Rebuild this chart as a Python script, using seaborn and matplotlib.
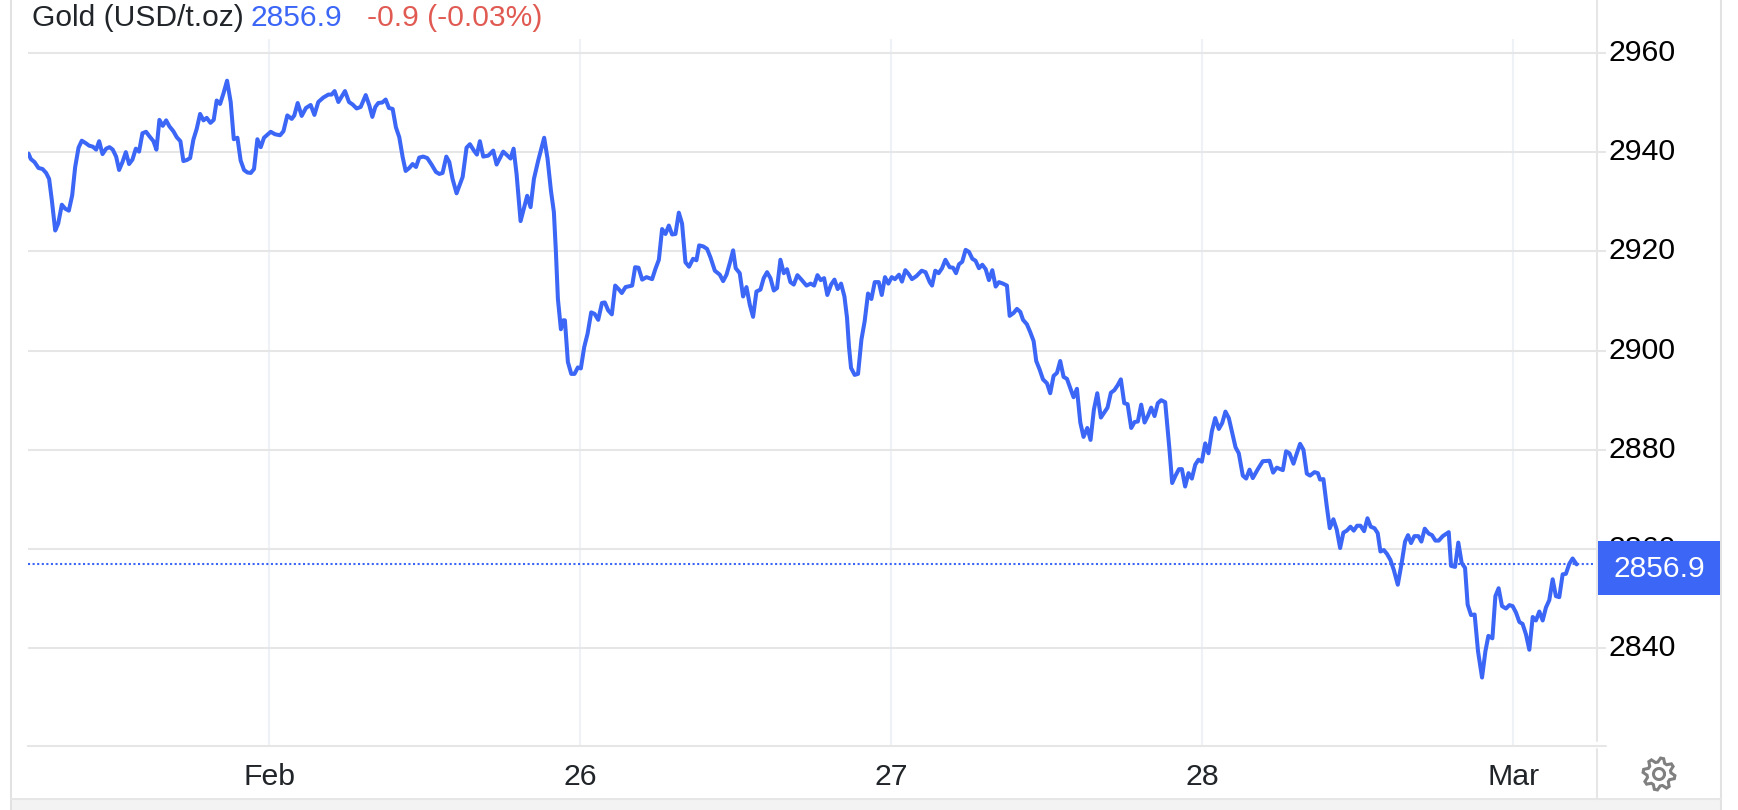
import numpy as np
import pandas as pd
import matplotlib
matplotlib.use("Agg")
import matplotlib.pyplot as plt
import seaborn as sns
from matplotlib.lines import Line2D
from matplotlib.patches import Rectangle, Polygon

# hours after the "Feb" tick
hours = [
    -18.56, -18.38, -18.10, -17.79, -17.48, -17.20, -16.97, -16.76, -16.50, -16.27, -15.99, -15.73,
    -15.45, -15.19, -14.96, -14.70, -14.45, -14.14, -13.88, -13.60, -13.34, -13.11, -12.85, -12.57,
    -12.31, -12.06, -11.80, -11.57, -11.31, -11.05, -10.80, -10.54, -10.28, -10.03, -9.77, -9.49,
    -9.23, -8.92, -8.69, -8.46, -8.20, -7.94, -7.69, -7.38, -7.12, -6.84, -6.61, -6.35,
    -6.09, -5.84, -5.58, -5.32, -5.06, -4.81, -4.52, -4.27, -4.04, -3.78, -3.52, -3.24,
    -2.96, -2.72, -2.44, -2.19, -1.93, -1.67, -1.41, -1.16, -0.90, -0.64, -0.39, 0.13,
    0.46, 0.85, 1.11, 1.41, 1.75, 1.95, 2.21, 2.52, 2.85, 3.21, 3.50, 3.80,
    4.19, 4.58, 4.83, 5.06, 5.35, 5.86, 6.17, 6.45, 6.76, 7.07, 7.46, 7.74,
    7.97, 8.20, 8.43, 8.74, 9.00, 9.25, 9.54, 9.79, 10.05, 10.31, 10.54, 10.82,
    11.08, 11.34, 11.59, 11.90, 12.21, 12.54, 12.88, 13.14, 13.39, 13.68, 13.91, 14.16,
    14.47, 14.94, 15.24, 15.50, 15.81, 16.04, 16.27, 16.53, 16.92, 17.30, 17.56, 18.07,
    18.64, 18.87, 19.10, 19.41, 19.92, 20.18, 20.44, 20.77, 21.23, 21.49, 21.75, 21.98,
    22.13, 22.29, 22.52, 22.70, 22.83, 23.06, 23.32, 23.57, 23.83, 24.06, 24.32, 24.58,
    24.86, 25.12, 25.40, 25.69, 25.91, 26.17, 26.45, 26.71, 26.97, 27.22, 27.51, 28.02,
    28.25, 28.51, 28.79, 29.13, 29.56, 29.82, 30.08, 30.33, 30.59, 30.85, 31.10, 31.36,
    31.62, 31.87, 32.13, 32.41, 32.72, 32.98, 33.19, 33.50, 33.80, 34.06, 34.40, 34.78,
    35.04, 35.30, 35.55, 35.81, 36.01, 36.32, 36.58, 36.84, 37.10, 37.35, 37.61, 37.92,
    38.17, 38.43, 38.69, 38.95, 39.20, 39.46, 39.72, 39.97, 40.23, 40.49, 40.77, 41.08,
    41.47, 41.80, 42.06, 42.32, 42.57, 42.83, 43.08, 43.37, 43.63, 43.88, 44.14, 44.40,
    44.60, 44.75, 44.91, 45.19, 45.45, 45.71, 45.96, 46.22, 46.48, 46.74, 47.05, 47.28,
    47.53, 47.79, 48.05, 48.30, 48.61, 48.84, 49.10, 49.36, 49.61, 49.95, 50.36, 50.66,
    50.98, 51.16, 51.41, 51.67, 51.93, 52.19, 52.52, 52.78, 53.01, 53.24, 53.49, 53.75,
    54.01, 54.27, 54.52, 54.78, 55.04, 55.30, 55.55, 55.81, 56.07, 56.32, 56.63, 56.94,
    57.15, 57.46, 57.71, 57.97, 58.18, 58.48, 58.74, 59.00, 59.20, 59.46, 59.72, 60.03,
    60.28, 60.54, 60.80, 61.05, 61.31, 61.57, 61.82, 62.08, 62.34, 62.60, 62.85, 63.14,
    63.39, 63.65, 63.91, 64.19, 64.45, 64.70, 64.96, 65.22, 65.48, 65.73, 65.99, 66.25,
    66.53, 66.79, 67.04, 67.30, 67.56, 67.81, 68.07, 68.33, 68.58, 68.84, 69.15, 69.48,
    69.69, 69.95, 70.21, 70.44, 70.69, 70.95, 71.21, 71.47, 71.72, 71.98, 72.24, 72.49,
    72.75, 73.01, 73.29, 73.55, 73.80, 74.06, 74.32, 74.58, 74.83, 75.14, 75.40, 75.66,
    75.91, 76.30, 76.68, 77.20, 77.48, 77.76, 78.23, 78.48, 78.74, 79.05, 79.31, 79.56,
    79.82, 80.08, 80.33, 80.67, 80.93, 81.10, 81.36, 81.62, 81.85, 82.13, 82.39, 82.65,
    82.90, 83.16, 83.45, 83.70, 83.96, 84.22, 84.50, 84.76, 85.01, 85.30, 85.55, 85.76,
    86.02, 86.27, 86.53, 86.79, 87.10, 87.40, 87.66, 87.89, 88.12, 88.38, 88.69, 88.92,
    89.18, 89.49, 89.74, 90.00, 90.26, 90.57, 91.03, 91.21, 91.52, 91.77, 92.03, 92.29,
    92.49, 92.75, 93.03, 93.29, 93.60, 93.86, 94.09, 94.40, 94.63, 94.88, 95.14, 95.45,
    95.71, 95.96, 96.22, 96.48, 96.73, 96.99, 97.25, 97.51, 97.76, 98.02, 98.28, 98.53,
    98.79, 99.05, 99.30, 99.56, 99.82, 100.07, 100.33, 100.59, 100.90,
]
prices = [
    2939.7, 2938.6, 2938.0, 2936.8, 2936.6, 2935.8, 2934.6, 2930.3, 2924.2, 2925.6, 2929.4, 2928.6,
    2928.2, 2931.3, 2937.0, 2940.9, 2942.3, 2941.8, 2941.3, 2941.1, 2940.5, 2942.2, 2939.6, 2940.7,
    2941.0, 2940.5, 2939.1, 2936.4, 2938.0, 2940.0, 2937.6, 2938.5, 2940.7, 2940.1, 2943.8, 2944.1,
    2943.2, 2942.2, 2940.5, 2946.5, 2945.3, 2946.4, 2945.2, 2944.2, 2943.0, 2942.2, 2938.2, 2938.4,
    2938.8, 2942.5, 2944.7, 2947.7, 2946.4, 2946.9, 2945.9, 2946.5, 2950.4, 2949.7, 2951.8, 2954.4,
    2950.1, 2942.6, 2942.9, 2938.3, 2936.4, 2935.9, 2935.8, 2936.6, 2942.6, 2941.0, 2942.9, 2944.1,
    2943.6, 2943.4, 2944.2, 2947.4, 2946.7, 2947.4, 2949.9, 2947.3, 2948.9, 2949.5, 2947.5, 2950.1,
    2951.0, 2951.6, 2951.6, 2952.3, 2950.1, 2952.3, 2950.1, 2949.6, 2948.8, 2949.1, 2951.5, 2949.4,
    2947.1, 2949.1, 2949.9, 2950.0, 2950.6, 2948.9, 2948.7, 2945.0, 2943.0, 2939.0, 2936.2, 2936.8,
    2937.6, 2937.0, 2938.9, 2939.1, 2938.8, 2937.5, 2936.0, 2935.6, 2935.8, 2939.1, 2938.0, 2934.6,
    2931.7, 2935.0, 2940.9, 2941.6, 2940.3, 2939.5, 2942.2, 2939.1, 2939.3, 2940.3, 2937.5, 2940.1,
    2938.7, 2940.7, 2935.6, 2926.1, 2931.2, 2928.9, 2934.6, 2938.3, 2942.9, 2938.7, 2932.3, 2927.9,
    2920.2, 2910.4, 2904.3, 2906.1, 2906.1, 2897.7, 2895.3, 2895.3, 2896.6, 2896.4, 2900.7, 2903.4,
    2907.7, 2907.4, 2906.2, 2909.6, 2909.7, 2908.1, 2907.3, 2913.1, 2912.4, 2911.6, 2912.8, 2913.1,
    2916.8, 2916.7, 2914.3, 2914.8, 2914.4, 2916.5, 2918.3, 2924.5, 2923.5, 2925.2, 2923.4, 2923.5,
    2927.8, 2925.6, 2917.8, 2916.9, 2918.5, 2918.2, 2921.2, 2921.0, 2920.5, 2918.8, 2916.1, 2915.3,
    2914.0, 2915.3, 2917.6, 2920.2, 2916.6, 2915.6, 2910.9, 2912.8, 2909.2, 2906.8, 2911.9, 2912.3,
    2914.6, 2915.8, 2914.6, 2912.1, 2912.6, 2918.3, 2915.6, 2916.4, 2913.8, 2913.3, 2915.2, 2914.3,
    2913.1, 2913.5, 2913.1, 2915.2, 2914.2, 2914.6, 2911.2, 2913.3, 2914.3, 2912.4, 2913.5, 2910.9,
    2906.6, 2900.8, 2896.5, 2895.1, 2895.3, 2902.2, 2905.9, 2911.5, 2910.4, 2913.8, 2913.8, 2911.2,
    2914.8, 2913.5, 2914.8, 2914.4, 2915.3, 2913.9, 2916.2, 2915.4, 2914.4, 2915.0, 2916.1, 2915.8,
    2913.8, 2913.1, 2916.1, 2915.6, 2916.6, 2918.3, 2916.8, 2916.7, 2915.6, 2917.4, 2917.9, 2920.3,
    2919.9, 2918.5, 2918.1, 2916.6, 2917.3, 2916.4, 2914.2, 2916.2, 2912.9, 2913.8, 2913.5, 2913.1,
    2907.0, 2907.6, 2908.4, 2907.8, 2906.2, 2905.3, 2903.7, 2901.9, 2897.9, 2896.2, 2894.2, 2893.4,
    2891.4, 2894.9, 2895.5, 2897.9, 2894.7, 2894.3, 2892.5, 2890.6, 2892.3, 2885.5, 2882.6, 2884.4,
    2882.0, 2888.1, 2891.4, 2886.5, 2887.5, 2888.5, 2891.5, 2892.0, 2893.0, 2894.2, 2889.4, 2889.2,
    2884.4, 2885.6, 2885.7, 2889.1, 2885.5, 2886.8, 2888.5, 2886.8, 2889.4, 2890.0, 2889.6, 2880.1,
    2873.3, 2874.8, 2876.1, 2876.1, 2872.6, 2875.3, 2874.2, 2877.0, 2878.0, 2877.6, 2881.3, 2879.3,
    2883.7, 2886.4, 2884.2, 2885.4, 2887.7, 2886.4, 2883.4, 2880.5, 2879.3, 2874.8, 2874.2, 2876.0,
    2874.3, 2876.1, 2877.7, 2877.8, 2875.4, 2876.4, 2875.9, 2879.7, 2879.3, 2877.2, 2879.3, 2881.2,
    2880.0, 2875.2, 2874.8, 2875.5, 2875.3, 2874.0, 2874.1, 2868.6, 2864.2, 2866.0, 2863.9, 2860.2,
    2863.3, 2863.7, 2864.5, 2863.7, 2864.7, 2864.7, 2863.6, 2866.2, 2864.5, 2864.2, 2863.2, 2859.5,
    2859.8, 2859.0, 2857.8, 2855.8, 2852.8, 2857.2, 2861.5, 2862.8, 2861.2, 2862.6, 2862.6, 2861.5,
    2864.1, 2863.1, 2862.8, 2861.7, 2861.7, 2862.6, 2863.4, 2856.6, 2856.4, 2861.3, 2857.2, 2856.2,
    2848.8, 2846.7, 2846.8, 2839.4, 2834.1, 2839.4, 2842.5, 2842.0, 2850.5, 2852.1, 2848.5, 2848.0,
    2848.7, 2848.5, 2847.2, 2845.3, 2844.9, 2842.8, 2839.7, 2846.3, 2845.6, 2847.4, 2845.6, 2848.2,
    2849.7, 2853.9, 2850.5, 2850.3, 2854.9, 2855.0, 2857.0, 2858.1, 2856.9,
]
x_ticks = [0, 24, 48, 72, 96]
x_labels = ["Feb", "26", "27", "28", "Mar"]
y_ticks = [2840, 2860, 2880, 2900, 2920, 2940, 2960]
last_price = 2856.9

W, H = 1738, 810
BLUE = "#3b66f6"
GRID = "#e6e6e6"
VGRID = "#eef2f6"
FRAME = "#e2e2e2"

sns.set_theme(style="white")
plt.rcParams["font.family"] = ["Liberation Sans", "DejaVu Sans"]

fig = plt.figure(figsize=(W / 100, H / 100), dpi=100, facecolor="white")
# axes box in pixels: x 28..1594, y 39..746
ax = fig.add_axes([28 / W, 1 - 746 / H, (1594 - 28) / W, (746 - 39) / H])


def fx(x):
    return x / W


def fy(y):
    return 1 - y / H


df = pd.DataFrame({"hour": hours, "price": prices})
sns.lineplot(data=df, x="hour", y="price", color=BLUE, linewidth=2.9, estimator=None, sort=False, ax=ax, zorder=4)

ax.set_xlim(-18.6, 102.24)
ax.set_ylim(2820.3, 2962.8)
ax.axhline(last_price, color=BLUE, lw=1.5, ls=(0, (1, 1.2)), zorder=3)

ax.yaxis.tick_right()
ax.set_yticks(y_ticks)
ax.set_xticks(x_ticks)
ax.set_xticklabels(x_labels)
ax.set_xlabel("")
ax.set_ylabel("")
ax.grid(True, axis="y", color=GRID, lw=1.45)
ax.grid(True, axis="x", color=VGRID, lw=1.45)
ax.set_axisbelow(True)
ax.tick_params(axis="y", length=8.6, width=1.45, color=GRID, pad=2, labelsize=21.8, labelcolor="black", right=True)
ax.tick_params(axis="x", length=0, pad=12, labelsize=21.8, labelcolor="#212529", bottom=False)
for side in ["top", "left", "right"]:
    ax.spines[side].set_visible(False)
ax.spines["bottom"].set_color(GRID)
ax.spines["bottom"].set_linewidth(1.45)
for lab in ax.get_yticklabels():
    lab.set_verticalalignment("center")

# widget frame
fig.add_artist(Rectangle((fx(11), 0), fx(1721 - 11), fy(799), color="#f3f3f3", lw=0))
frame_lines = [
    ([11, 11], [0, 810], FRAME),
    ([1721, 1721], [0, 810], FRAME),
    ([11, 1721], [799, 799], GRID),
    ([1597, 1597], [0, 741], GRID),
    ([1597, 1597], [749, 799], GRID),
    ([1594, 1606], [746, 746], GRID),
]
for xs, ys, col in frame_lines:
    fig.add_artist(Line2D([fx(v) for v in xs], [fy(v) for v in ys], color=col, lw=1.45))

# last price tag, on top of the 2860 label
ax.add_patch(Rectangle((fx(1598), fy(595)), fx(1720 - 1598), (595 - 541) / H, transform=fig.transFigure,
                       color=BLUE, lw=0, clip_on=False, zorder=10))
ax.text(fx(1659), fy(569), f"{last_price}", transform=fig.transFigure, color="white", fontsize=21.6,
        ha="center", va="center", zorder=11, clip_on=False)

# header
fig.text(fx(32), fy(26), "Gold (USD/t.oz)", fontsize=21.6, color="#212529", va="baseline")
fig.text(fx(250), fy(26), "2856.9", fontsize=21.6, color=BLUE, va="baseline")
fig.text(fx(367), fy(26), "-0.9 (-0.03%)", fontsize=21.6, color="#e05a52", va="baseline")

# settings gear
cx, cy = 1659, 774
teeth = 8
angles = np.linspace(0, 2 * np.pi, teeth * 4, endpoint=False) + np.pi / teeth / 4
radii = np.tile([16, 16, 12, 12], teeth)
gear = [(fx(cx + r * np.cos(a)), fy(cy + r * np.sin(a))) for r, a in zip(radii, angles)]
fig.add_artist(Polygon(gear, closed=True, fill=False, ec="#808080", lw=2.2, transform=fig.transFigure))
inner = np.linspace(0, 2 * np.pi, 40)
fig.add_artist(Line2D([fx(cx + 5.5 * np.cos(a)) for a in inner], [fy(cy + 5.5 * np.sin(a)) for a in inner],
                      color="#808080", lw=2.2))

fig.savefig("out.png", dpi=100)
